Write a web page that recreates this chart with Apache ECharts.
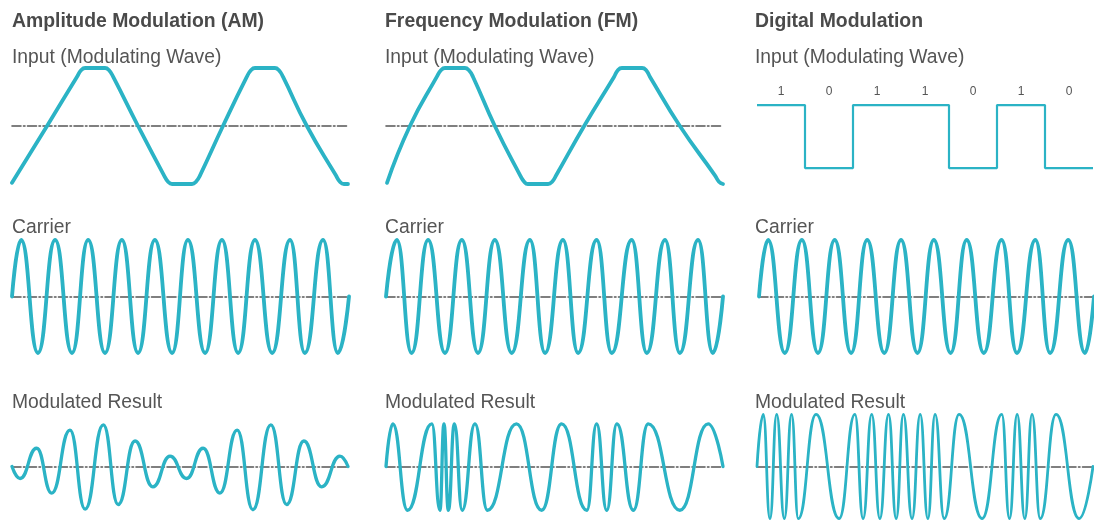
<!DOCTYPE html>
<html><head><meta charset="utf-8">
<script src="https://cdn.jsdelivr.net/npm/echarts@6/dist/echarts.min.js"></script>
<style>html,body{margin:0;padding:0;background:#fff}#c{width:1094px;height:529px}</style>
</head><body><div id="c"></div>
<script>
// ---- text ----
const sectionTitles = ['Amplitude Modulation (AM)', 'Frequency Modulation (FM)', 'Digital Modulation'];
const rowTitles = ['Input (Modulating Wave)', 'Carrier', 'Modulated Result'];
const bits = ['1', '0', '1', '1', '0', '1', '0'];

// ---- input waves: [time in carrier cycles, amplitude] (crossings, bends, rounded plateaus) ----
const amInput = [[0,-0.98],[1.04,0],[1.93,0.85],[2.05,0.96],[2.17,1],[2.76,1],[2.88,0.96],[3.00,0.85],[3.74,0],[4.51,-0.85],[4.63,-0.96],[4.75,-1],[5.34,-1],[5.46,-0.96],[5.58,-0.85],[6.26,0],[6.97,0.85],[7.09,0.96],[7.21,1],[7.80,1],[7.92,0.96],[8.04,0.85],[8.75,0],[9.61,-0.85],[9.73,-0.96],[9.85,-1],[9.97,-1]];
const fmInput = [[0.03,-0.98],[0.71,0],[1.51,0.85],[1.63,0.96],[1.75,1],[2.34,1],[2.46,0.96],[2.58,0.85],[3.23,0],[3.98,-0.85],[4.10,-0.96],[4.21,-1],[4.81,-1],[4.93,-0.96],[5.05,-0.85],[5.88,0],[6.77,0.85],[6.88,0.96],[7.00,1],[7.60,1],[7.72,0.96],[7.83,0.85],[8.72,0],[9.76,-0.85],[9.88,-0.96],[10,-1]];

// ---- carriers: peaks / troughs ----
const amCarrier = [[0,0],[0.27,1],[0.77,-1],[1.28,1],[1.78,-1],[2.26,1],[2.76,-1],[3.26,1],[3.74,-1],[4.24,1],[4.75,-1],[5.22,1],[5.73,-1],[6.23,1],[6.71,-1],[7.21,1],[7.72,-1],[8.25,1],[8.69,-1],[9.23,1],[9.67,-1],[10,0]];
const fmCarrier = [[0,0],[0.32,1],[0.76,-1],[1.25,1],[1.75,-1],[2.25,1],[2.73,-1],[3.23,1],[3.73,-1],[4.27,1],[4.72,-1],[5.25,1],[5.70,-1],[6.25,1],[6.70,-1],[7.29,1],[7.74,-1],[8.28,1],[8.72,-1],[9.26,1],[9.70,-1],[10,0]];
const digCarrier = [[0,0],[0.27,1],[0.77,-1],[1.28,1],[1.76,-1],[2.26,1],[2.75,-1],[3.23,1],[3.74,-1],[4.24,1],[4.73,-1],[5.22,1],[5.72,-1],[6.20,1],[6.71,-1],[7.24,1],[7.70,-1],[8.25,1],[8.69,-1],[9.23,1],[9.73,-1],[10,0]];

// ---- modulated results ----
const amResult = [[0,0],[0.24,-0.23],[0.73,0.35],[1.18,-0.51],[1.72,0.70],[2.17,-0.82],[2.71,0.80],[3.15,-0.73],[3.65,0.49],[4.18,-0.39],[4.69,0.20],[5.18,-0.23],[5.67,0.35],[6.17,-0.51],[6.68,0.70],[7.15,-0.83],[7.68,0.80],[8.15,-0.73],[8.66,0.49],[9.19,-0.39],[9.73,0.20],[9.97,0]];
const fmResult = [[0,0],[0.20,0.82],[0.64,-0.84],[1.36,0.82],[1.60,-0.84],[1.72,0.82],[1.85,-0.84],[2.03,0.82],[2.26,-0.84],[2.64,0.82],[3.01,-0.84],[3.87,0.82],[4.62,-0.84],[5.21,0.82],[5.96,-0.84],[6.25,0.82],[6.55,-0.84],[6.85,0.82],[7.34,-0.84],[7.78,0.82],[8.72,-0.84],[9.56,0.82],[10,0]];
// digital result: time in bit periods
const digResult = [[0,0],[0.13,1],[0.27,-1],[0.41,1],[0.57,-1],[0.72,1],[0.86,-1],[1.23,1],[1.71,-1],[2.04,1],[2.21,-1],[2.39,1],[2.56,-1],[2.74,1],[2.90,-1],[3.05,1],[3.23,-1],[3.40,1],[3.56,-1],[3.71,1],[3.90,-1],[4.21,1],[4.69,-1],[5.10,1],[5.26,-1],[5.42,1],[5.58,-1],[5.73,1],[5.90,-1],[6.23,1],[6.71,-1],[7,0]];

// ---- build ----
const WAVE = '#2bb3c5';
const GREY = '#555555';
const FONT = '"Liberation Sans", Arial, Helvetica, sans-serif';
const dashDot = [9, 2.5, 1.5, 2.5];

const rowGrid = [ {top: 56.4, height: 139.2}, {top: 228.7, height: 135.6}, {top: 404, height: 132} ];

const grids = [], xAxes = [], yAxes = [], series = [];

function addWaveGrid(left, width, row, xmax, data, opt) {
  const gi = grids.length;
  grids.push({left: left, width: width, top: rowGrid[row].top, height: rowGrid[row].height});
  xAxes.push({gridIndex: gi, type: 'value', min: 0, max: xmax,
    axisLine: {show: true, onZero: true, lineStyle: {color: GREY, width: 1.6, type: dashDot}},
    axisTick: {show: false}, axisLabel: {show: false}, splitLine: {show: false}});
  yAxes.push({gridIndex: gi, type: 'value', min: -1.2, max: 1.2,
    axisLine: {show: false}, axisTick: {show: false}, axisLabel: {show: false}, splitLine: {show: false}});
  series.push(Object.assign({type: 'line', xAxisIndex: gi, yAxisIndex: gi, data: data,
    showSymbol: false, symbol: 'none', z: 3,
    lineStyle: {color: WAVE, width: opt.w, cap: 'round', join: 'round'}}, opt.s));
}

const inputSmooth = {smooth: 0.5};
const peakSmooth = {smooth: 0.5, smoothMonotone: 'x'};

addWaveGrid(12, 337, 0, 10, amInput, {w: 3.8, s: inputSmooth});
addWaveGrid(386, 337, 0, 10, fmInput, {w: 3.8, s: inputSmooth});

// digital input (step) grid
let bitAxisGrid;
{
  const gi = grids.length;
  grids.push({left: 757, width: 336, top: 100, height: 80.64});
  xAxes.push({gridIndex: gi, type: 'value', min: 0, max: bits.length, show: false});
  yAxes.push({gridIndex: gi, type: 'value', min: -0.2, max: 1.08, show: false});
  const stepData = bits.map((b, i) => [i, Number(b)]);
  stepData.push([bits.length, Number(bits[bits.length - 1])]);
  series.push({type: 'line', step: 'end', xAxisIndex: gi, yAxisIndex: gi, data: stepData,
    showSymbol: false, symbol: 'none', lineStyle: {color: WAVE, width: 2.2}});
  bitAxisGrid = gi;
}

addWaveGrid(12, 337, 1, 10, amCarrier, {w: 3.8, s: peakSmooth});
addWaveGrid(386, 337, 1, 10, fmCarrier, {w: 3.8, s: peakSmooth});
addWaveGrid(759, 337, 1, 10, digCarrier, {w: 3.8, s: peakSmooth});

addWaveGrid(12, 337, 2, 10, amResult, {w: 3.3, s: peakSmooth});
addWaveGrid(386, 337, 2, 10, fmResult, {w: 3.3, s: peakSmooth});
addWaveGrid(757, 336, 2, bits.length, digResult, {w: 2.8, s: peakSmooth});

// bit labels axis
xAxes.push({gridIndex: bitAxisGrid, type: 'category', position: 'top', data: bits, boundaryGap: true,
  axisLine: {show: false}, axisTick: {show: false}, splitLine: {show: false},
  axisLabel: {show: true, margin: 2, color: GREY, fontSize: 12, fontFamily: FONT}});

// titles
const titles = [];
const headTop = 12, rowTops = [48, 218, 393];
const headLeft = [12, 385, 755];
sectionTitles.forEach((t, i) => titles.push({text: t, left: headLeft[i], top: headTop, padding: 0,
  textStyle: {fontSize: 19.4, fontWeight: 'bold', color: '#4a4a4a', fontFamily: FONT}}));
for (let c = 0; c < 3; c++) {
  rowTitles.forEach((t, r) => titles.push({text: t, left: headLeft[c], top: rowTops[r], padding: 0,
    textStyle: {fontSize: 19.3, fontWeight: 'normal', color: GREY, fontFamily: FONT}}));
}

const chart = echarts.init(document.getElementById('c'), null, {renderer: 'canvas'});
chart.setOption({
  animation: false,
  backgroundColor: '#ffffff',
  title: titles,
  grid: grids,
  xAxis: xAxes,
  yAxis: yAxes,
  series: series
});
</script>
</body></html>
